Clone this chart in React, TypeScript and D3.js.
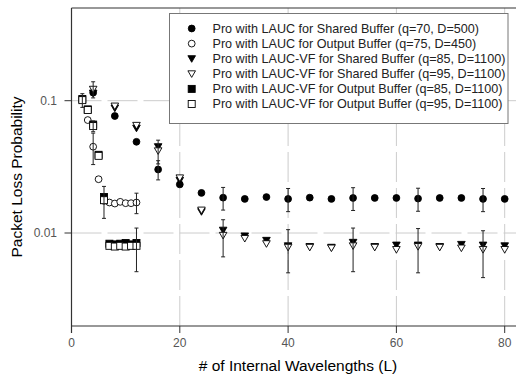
import React from 'react';
import * as d3 from 'd3';

// wavelengths sampled by each run
const lCoarse = [4, 8, 12, 16, 20, 24, 28, 32, 36, 40, 44, 48, 52, 56, 60, 64, 68, 72, 76, 80];
const lOutLauc = [3, 4, 5, 6, 7, 8, 9, 10, 11, 12];
const lOutVf = [2, 3, 4, 5, 6, 7, 8, 9, 10, 11, 12];

// packet loss probabilities
const laucShared = [0.115, 0.0766, 0.0489, 0.0302, 0.0233, 0.0201, 0.0185, 0.0181, 0.0187, 0.0181,
  0.0185, 0.0181, 0.0184, 0.0184, 0.0184, 0.0182, 0.0184, 0.0184, 0.0181, 0.0181];
const laucOutput = [0.0714, 0.0449, 0.0255, 0.0175, 0.0170, 0.0167, 0.0172, 0.0168, 0.0168, 0.0170];
const vfShared85 = [0.114, 0.088, 0.062, 0.0449, 0.025, 0.0145, 0.0105, 0.0095, 0.0088, 0.0080,
  0.0079, 0.0078, 0.0085, 0.0079, 0.0081, 0.0081, 0.0079, 0.0082, 0.0081, 0.0080];
const vfShared95 = [0.122, 0.0911, 0.0651, 0.0418, 0.0261, 0.0149, 0.0096, 0.0091, 0.0083, 0.0078,
  0.0078, 0.0077, 0.0080, 0.0078, 0.0075, 0.0079, 0.0078, 0.0077, 0.0075, 0.0075];
const vfOutput85 = [0.103, 0.086, 0.066, 0.039, 0.0187, 0.0083, 0.0082, 0.0083, 0.0084, 0.0082, 0.0084];
const vfOutput95 = [0.101, 0.085, 0.0643, 0.0383, 0.0177, 0.0080, 0.0079, 0.0080, 0.0079, 0.0080, 0.0080];

// error bars (+/-), only drawn at some L
const laucSharedErrL = [16, 28, 40, 52, 64, 76];
const laucSharedErr = [0.005, 0.0036, 0.0036, 0.0036, 0.0036, 0.0036];
const laucOutputErrL = [4, 12];
const laucOutputErr = [0.012, 0.003];
const vfShared95ErrL = [4, 16, 28, 40, 52, 64, 76];
const vfShared95Err = [0.017, 0.0085, 0.003, 0.0028, 0.0029, 0.0029, 0.0029];
const vfOutput95ErrL = [2, 4, 6, 12];
const vfOutput95Err = [0.012, 0.006, 0.0048, 0.0029];

const xTicks = [0, 20, 40, 60, 80];
const yTicks = [0.1, 0.01];
const yTickLabels = ['0.1', '0.01'];

const legendLabels = [
  'Pro with LAUC for Shared Buffer (q=70, D=500)',
  'Pro with LAUC for Output Buffer (q=75, D=450)',
  'Pro with LAUC-VF for Shared Buffer (q=85, D=1100)',
  'Pro with LAUC-VF for Shared Buffer (q=95, D=1100)',
  'Pro with LAUC-VF for Output Buffer (q=85, D=1100)',
  'Pro with LAUC-VF for Output Buffer (q=95, D=1100)',
];

const series = [
  { shape: 'circle', filled: true, L: lCoarse, v: laucShared, errL: laucSharedErrL, err: laucSharedErr },
  { shape: 'circle', filled: false, L: lOutLauc, v: laucOutput, errL: laucOutputErrL, err: laucOutputErr },
  { shape: 'tri', filled: true, L: lCoarse, v: vfShared85, errL: [], err: [] },
  { shape: 'tri', filled: false, L: lCoarse, v: vfShared95, errL: vfShared95ErrL, err: vfShared95Err },
  { shape: 'square', filled: true, L: lOutVf, v: vfOutput85, errL: [], err: [] },
  { shape: 'square', filled: false, L: lOutVf, v: vfOutput95, errL: vfOutput95ErrL, err: vfOutput95Err },
];

const font = '"Liberation Sans", Arial, sans-serif';
const axisColor = '#333';
const gridColor = '#cccccc';

const left = 71.5, right = 516, top = 8, bottom = 326;
const x = d3.scaleLinear().domain([0, 80]).range([71.5, 504.7]);
const y = d3.scaleLog().domain([0.01, 0.1]).range([233, 100.7]);

const marker = (shape: string, filled: boolean, cx: number, cy: number, key: string) => {
  const fill = filled ? '#000' : '#fff';
  const stroke = '#000';
  if (shape === 'circle') {
    return <circle key={key} cx={cx} cy={cy} r={3.4} fill={fill} stroke={stroke} strokeWidth={0.9} />;
  }
  if (shape === 'square') {
    return <rect key={key} x={cx - 3.5} y={cy - 3.5} width={7} height={7} fill={fill} stroke={stroke} strokeWidth={0.9} />;
  }
  const d = `M${cx - 3.8},${cy - 3}L${cx + 3.8},${cy - 3}L${cx},${cy + 3.6}Z`;
  return <path key={key} d={d} fill={fill} stroke={stroke} strokeWidth={0.9} />;
};

const App = () => {
  return (
    <div style={{ position: 'fixed', left: 0, top: 0 }}>
      <svg width={522} height={379} style={{ display: 'block', background: '#fff' }} fontFamily={font}>
        {/* grid */}
        {xTicks.filter((t) => t > 0).map((t) => (
          <line key={'gx' + t} x1={x(t)} x2={x(t)} y1={top} y2={bottom} stroke={gridColor} strokeDasharray="30,6" />
        ))}
        {yTicks.map((t) => (
          <line key={'gy' + t} x1={left} x2={right} y1={y(t)} y2={y(t)} stroke={gridColor} strokeDasharray="30,6" />
        ))}

        {/* axes */}
        <line x1={left} x2={right} y1={top} y2={top} stroke={axisColor} strokeWidth={1.2} />
        <line x1={left} x2={left} y1={top} y2={bottom + 7} stroke={axisColor} strokeWidth={1.2} />
        <line x1={left} x2={right} y1={bottom} y2={bottom} stroke={axisColor} strokeWidth={1.2} />
        {xTicks.map((t) => (
          <g key={'xt' + t}>
            <line x1={x(t)} x2={x(t)} y1={bottom} y2={bottom + 7} stroke={axisColor} />
            <text x={x(t)} y={347} textAnchor="middle" fontSize={12} fill="#555">{t}</text>
          </g>
        ))}
        {yTicks.map((t, i) => (
          <g key={'yt' + t}>
            <line x1={left - 7} x2={left} y1={y(t)} y2={y(t)} stroke={axisColor} />
            <text x={57} y={y(t)} dy="0.35em" textAnchor="end" fontSize={12} fill="#555">{yTickLabels[i]}</text>
          </g>
        ))}
        <text x={298} y={371} textAnchor="middle" fontSize={15.5} fill="#000">
          # of Internal Wavelengths (L)
        </text>
        <text transform="translate(22,177) rotate(-90)" textAnchor="middle" fontSize={15.5} fill="#000">
          Packet Loss Probability
        </text>

        {/* markers */}
        {series.map((s, si) => (
          <g key={'s' + si}>
            {s.L.map((l, i) => marker(s.shape, s.filled, x(l), y(s.v[i]), `m${si}-${i}`))}
          </g>
        ))}

        {/* error bars */}
        {series.map((s, si) => (
          <g key={'e' + si} stroke="#222" strokeWidth={1}>
            {s.errL.map((l, i) => {
              const v = s.v[s.L.indexOf(l)];
              const y1 = y(v + s.err[i]);
              const y2 = y(Math.max(v - s.err[i], 0.0021));
              const cx = x(l);
              return (
                <g key={`e${si}-${i}`}>
                  <line x1={cx} x2={cx} y1={y1} y2={y2} />
                  <line x1={cx - 2} x2={cx + 2} y1={y1} y2={y1} />
                  <line x1={cx - 2} x2={cx + 2} y1={y2} y2={y2} />
                </g>
              );
            })}
          </g>
        ))}

        {/* legend */}
        <rect x={169.5} y={13.5} width={338.5} height={110} fill="#fff" stroke="#777" />
        {legendLabels.map((label, i) => {
          const ly = 28.5 + i * 15.1;
          return (
            <g key={'lg' + i}>
              {marker(series[i].shape, series[i].filled, 191.7, ly, 'lm' + i)}
              <text x={212.5} y={ly} dy="0.35em" fontSize={12.6} fill="#222">{label}</text>
            </g>
          );
        })}
      </svg>
    </div>
  );
};

export default App;
